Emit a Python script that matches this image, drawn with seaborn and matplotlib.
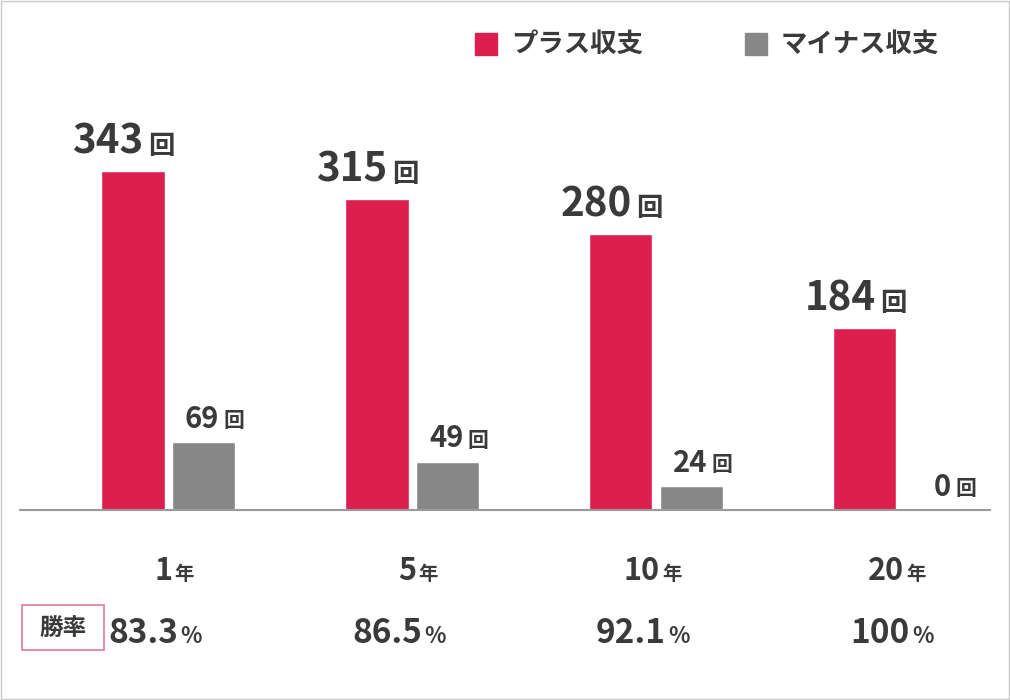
import matplotlib
matplotlib.use("Agg")
import matplotlib.pyplot as plt
import seaborn as sns
import pandas as pd
from matplotlib.patches import Rectangle
import matplotlib.transforms as mt

sns.set_theme(style="white")
plt.rcParams['font.family'] = ['Noto Sans CJK JP', 'DejaVu Sans']

periods = ["1", "5", "10", "20"]
plus = [343, 315, 280, 184]
minus = [69, 49, 24, 0]
win_rates = ["83.3", "86.5", "92.1", "100"]
series = ["プラス収支", "マイナス収支"]
RED, GRAY, TXT = "#DC1F4E", "#878787", "#3a3a3a"

df = pd.DataFrame({"period": periods * 2, "value": plus + minus,
                   "series": [series[0]] * 4 + [series[1]] * 4})

W, H = 1010, 700
fig = plt.figure(figsize=(10.1, 7), dpi=100)
def fx(x): return x / W
def fy(y): return 1 - y / H
fig.patches.append(Rectangle((0.001, 0.001), 0.998, 0.998, transform=fig.transFigure,
                             fill=False, ec="#c8c8c8", lw=1))

ax = fig.add_axes([fx(20), fy(510), fx(970), 395 / H])
sns.barplot(data=df, x="period", y="value", hue="series", palette=[RED, GRAY],
            width=0.58, gap=0.1, ax=ax, legend=False, saturation=1)
ax.set_xlim(-0.607, 3.369)
ax.set_ylim(0, 400)
for s in ["top", "right", "left"]:
    ax.spines[s].set_visible(False)
ax.spines["bottom"].set_color("#9a9a9a")
ax.spines["bottom"].set_linewidth(1.5)
ax.set_yticks([])
ax.set_xlabel(""); ax.set_ylabel("")
ax.tick_params(axis="x", length=12, width=1.2, color="#9a9a9a", direction="out", labelbottom=False)

off = 0.16
for i in range(4):
    for v, dx, fs1, fs2, shift in [(plus[i], -off, 29, 19, 0.06), (minus[i], off, 21, 15, 0.05)]:
        ax.annotate(str(v), (i + dx + shift, v), xytext=(0, 6), textcoords="offset points",
                    ha="right", va="bottom", fontsize=fs1, fontweight="bold", color=TXT)
        ax.annotate("回", (i + dx + shift, v), xytext=(3, 8), textcoords="offset points",
                    ha="left", va="bottom", fontsize=fs2, fontweight="bold", color=TXT)
    # x label
    tx = ax.transData.transform((i, 0))[0] / (W)
    fig.text(tx + fx(4), fy(580), periods[i], ha="right", va="baseline",
             fontsize=22, fontweight="bold", color=TXT)
    fig.text(tx + fx(6), fy(580), "年", ha="left", va="baseline",
             fontsize=14, fontweight="bold", color=TXT)
    fig.text(tx + fx(10), fy(643), win_rates[i], ha="right", va="baseline",
             fontsize=24, fontweight="bold", color=TXT)
    fig.text(tx + fx(12), fy(643), "%", ha="left", va="baseline",
             fontsize=16, fontweight="bold", color=TXT)

fig.patches.append(Rectangle((fx(22), fy(650)), fx(82), 45 / H, transform=fig.transFigure,
                             fill=False, ec="#e07a9a", lw=1.2))
fig.text(fx(63), fy(628), "勝率", ha="center", va="center", fontsize=17,
         fontweight="bold", color=TXT)

# legend
for x0, col, lab in [(475, RED, series[0]), (745, GRAY, series[1])]:
    fig.patches.append(Rectangle((fx(x0), fy(55)), fx(22), 22 / H, transform=fig.transFigure,
                                 color=col))
    fig.text(fx(x0 + 36), fy(44), lab, ha="left", va="center", fontsize=19,
             fontweight="bold", color=TXT)

fig.savefig("out.png", dpi=100)
